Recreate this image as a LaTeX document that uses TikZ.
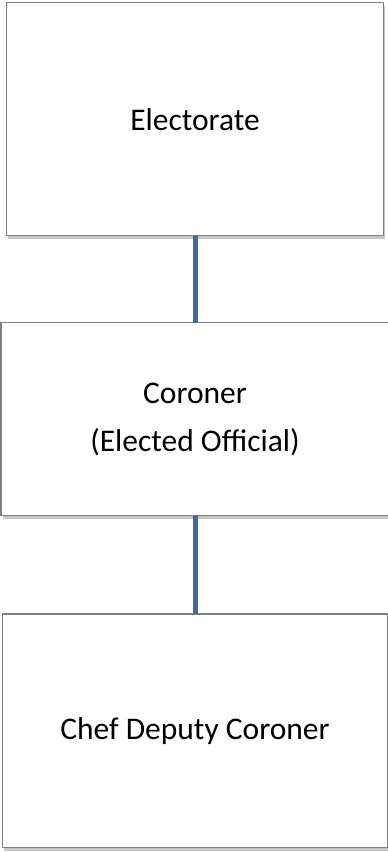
\documentclass[tikz,border=0pt]{standalone}
\usepackage{fontspec}
\setmainfont{Carlito}
\usepackage{tikz}
\usetikzlibrary{shadows}
\definecolor{linkblue}{RGB}{62,106,160}
\definecolor{boxgray}{RGB}{128,128,128}

\begin{document}
\begin{tikzpicture}[x=1pt,y=-1pt,font=\fontsize{31.5}{48}\selectfont,
  box/.style={draw=boxgray,line width=1.2pt,fill=white,inner sep=0pt,outer sep=0pt,align=center,
    drop shadow={shadow xshift=1.5pt,shadow yshift=-3pt,fill=black,opacity=0.22}},
  every edge/.style={draw=linkblue,line width=5pt}]
\useasboundingbox (0,0) rectangle (388,852);
\node[box,minimum width=376.6pt,minimum height=233pt] (elect) at (195,119.2) {Electorate};
\node[box,minimum width=388pt,minimum height=193pt] (cor) at (195,419.2) {Coroner\\(Elected Official)};
\node[box,minimum width=384.7pt,minimum height=233.7pt] (chief) at (195,730.8) {Chef Deputy Coroner};
\draw (elect) edge (cor);
\draw (cor) edge (chief);
\end{tikzpicture}
\end{document}
